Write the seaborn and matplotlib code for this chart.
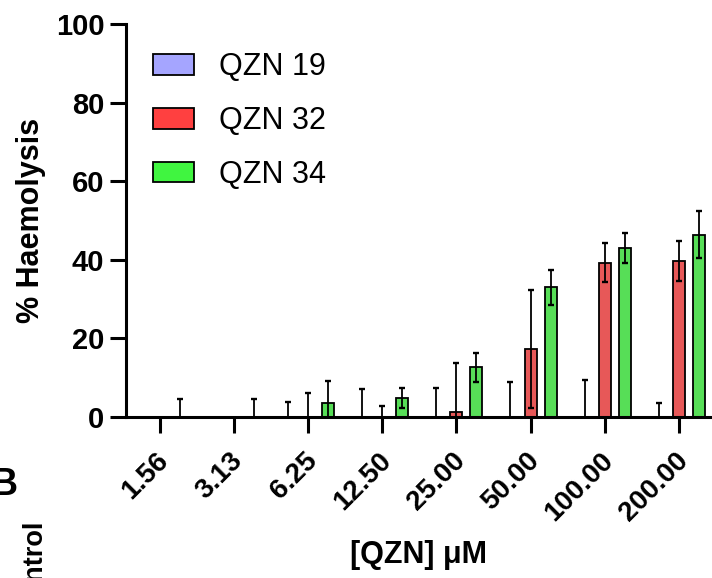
import pandas as pd
import matplotlib
matplotlib.use("Agg")
import matplotlib.pyplot as plt
import matplotlib.transforms as mtransforms
from matplotlib.patches import Patch
import seaborn as sns

# haemolysis data (mean and SD per concentration)
concs = ["1.56", "3.13", "6.25", "12.50", "25.00", "50.00", "100.00", "200.00"]
compounds = ["QZN 19", "QZN 32", "QZN 34"]
qzn19_mean = [0, 0, 0, 0, 0, 0, 0, 0]
qzn19_sd = [0, 0, 3.8, 7.1, 7.3, 8.9, 9.5, 3.6]
qzn32_mean = [0, 0, 0, 0, 1.2, 17.3, 39.3, 39.8]
qzn32_sd = [0, 0, 6.2, 2.8, 12.6, 14.9, 4.9, 5.1]
qzn34_mean = [0, 0, 3.6, 4.9, 12.6, 33.0, 43.1, 46.4]
qzn34_sd = [4.5, 4.5, 5.5, 2.6, 3.6, 4.5, 3.8, 6.0]
colors = ["#a5a5ff", "#ff4040", "#40f540"]

means = [qzn19_mean, qzn32_mean, qzn34_mean]
sds = [qzn19_sd, qzn32_sd, qzn34_sd]

rows = []
for name, m in zip(compounds, means):
    for c, v in zip(concs, m):
        rows.append({"conc": c, "compound": name, "haem": v})
df = pd.DataFrame(rows)

sns.set_style("ticks")
plt.rcParams["font.family"] = ["Liberation Sans", "DejaVu Sans"]
plt.rcParams["text.color"] = "black"
plt.rcParams["axes.labelcolor"] = "black"
plt.rcParams["xtick.color"] = "black"
plt.rcParams["ytick.color"] = "black"

fig = plt.figure(figsize=(7.12, 5.78), dpi=100)
ax = fig.add_axes([126 / 712, 161 / 578, 586 / 712, 393 / 578])

sns.barplot(data=df, x="conc", y="haem", hue="compound", order=concs,
            hue_order=compounds, palette=colors, width=0.81, gap=0.4,
            errorbar=None, edgecolor="black", linewidth=1.3, legend=False,
            ax=ax)

# SD error bars on top of each bar
for cont, m, s in zip(ax.containers, means, sds):
    xs = [b.get_x() + b.get_width() / 2 for b in cont]
    pts = [(x, mm, ss) for x, mm, ss in zip(xs, m, s) if ss > 0]
    ax.errorbar([p[0] for p in pts], [p[1] for p in pts],
                yerr=[p[2] for p in pts], fmt="none", ecolor="black",
                elinewidth=1.3, capsize=2.3, capthick=1.7, zorder=3)

ax.set_ylim(0, 100)
ax.set_xlim(-0.452, 7.446)
ax.set_yticks([0, 20, 40, 60, 80, 100])

sns.despine(ax=ax)
for sp in ["left", "bottom"]:
    ax.spines[sp].set_linewidth(2.2)
    ax.spines[sp].set_color("black")

ax.tick_params(axis="both", width=2.2, length=11.5, color="black")
ax.tick_params(axis="y", pad=4, labelsize=21)
ax.tick_params(axis="x", pad=17, labelsize=20)
for t in ax.get_yticklabels():
    t.set_fontweight("bold")
shift = mtransforms.ScaledTranslation(5 / 100, 0, fig.dpi_scale_trans)
for t in ax.get_xticklabels():
    t.set_fontweight("bold")
    t.set_rotation(45)
    t.set_ha("right")
    t.set_va("center")
    t.set_rotation_mode("anchor")
    t.set_transform(t.get_transform() + shift)

ax.set_ylabel("% Haemolysis", fontsize=22, fontweight="bold")
ax.set_xlabel("[QZN] μM", fontsize=22, fontweight="bold")
ax.yaxis.set_label_coords(-0.1357, 0.5)
ax.xaxis.set_label_coords(0.5, -0.312)

handles = [Patch(facecolor=c, edgecolor="black", linewidth=1.3, label=n)
           for c, n in zip(colors, compounds)]
ax.legend(handles=handles, loc="upper left", bbox_to_anchor=(0.046, 0.928),
          frameon=False, fontsize=22, handlelength=1.34, handleheight=0.65,
          handletextpad=0.82, labelspacing=0.78, borderpad=0, borderaxespad=0)

# fragments of the neighbouring panel
fig.text(18 / 712, 1 - 495 / 578, "B", fontsize=27, fontweight="bold",
         ha="right", va="baseline")
fig.text(35 / 712, 1 - 520 / 578, "Control", fontsize=19.5, fontweight="bold",
         rotation=90, ha="center", va="top")

fig.savefig("out.png", dpi=100)
